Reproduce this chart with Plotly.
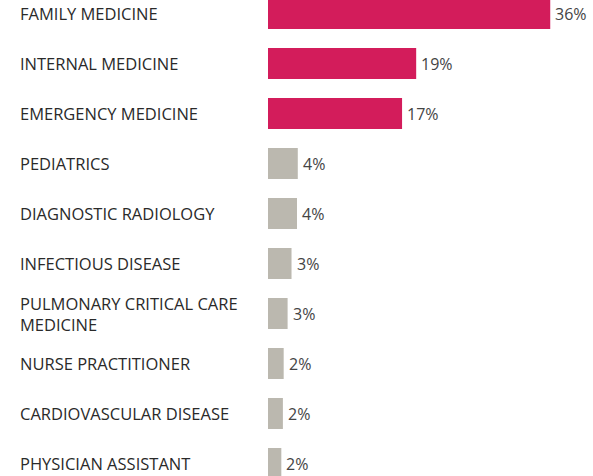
import plotly.graph_objects as go

categories = [
    "FAMILY MEDICINE",
    "INTERNAL MEDICINE",
    "EMERGENCY MEDICINE",
    "PEDIATRICS",
    "DIAGNOSTIC RADIOLOGY",
    "INFECTIOUS DISEASE",
    "PULMONARY CRITICAL CARE<br>MEDICINE",
    "NURSE PRACTITIONER",
    "CARDIOVASCULAR DISEASE",
    "PHYSICIAN ASSISTANT",
]
values = [36.0, 18.9, 17.1, 3.8, 3.7, 3.0, 2.5, 2.0, 1.9, 1.7]
highlight = [True, True, True, False, False, False, False, False, False, False]

PINK = "#d31c5b"
GRAY = "#bbb8af"
FONT = "Open Sans, Noto Sans, sans-serif"

W, H = 593, 476
ML = 268
plot_w = W - ML
px_per_unit = 7.84

colors = [PINK if h else GRAY for h in highlight]
ypos = list(range(len(categories)))

fig = go.Figure()
fig.add_trace(go.Bar(
    x=values,
    y=ypos,
    orientation="h",
    marker=dict(color=colors, line=dict(width=0)),
    width=0.62,
    hoverinfo="skip",
))

annotations = []
for i, (cat, v) in enumerate(zip(categories, values)):
    annotations.append(dict(
        xref="paper", yref="y",
        x=(18 - ML) / plot_w, y=i,
        xanchor="left", yanchor="middle",
        text=cat, showarrow=False, align="left",
        font=dict(family=FONT, size=16.5, color="#2a2a2a"),
    ))
    annotations.append(dict(
        xref="x", yref="y",
        x=v, y=i, xshift=3,
        xanchor="left", yanchor="middle",
        text=f"{int(v + 0.5)}%", showarrow=False,
        font=dict(family=FONT, size=16, color="#444444"),
    ))

fig.update_layout(
    width=W, height=H,
    margin=dict(l=ML, r=0, t=0, b=0),
    paper_bgcolor="white", plot_bgcolor="white",
    showlegend=False,
    xaxis=dict(range=[0, plot_w / px_per_unit], visible=False, fixedrange=True),
    yaxis=dict(range=[9.25, -0.27], visible=False, fixedrange=True),
    annotations=annotations,
)

fig.write_html(
    "out.html",
    config={"displayModeBar": False},
    post_script="document.body.style.margin='0';document.body.style.overflow='hidden';",
)
